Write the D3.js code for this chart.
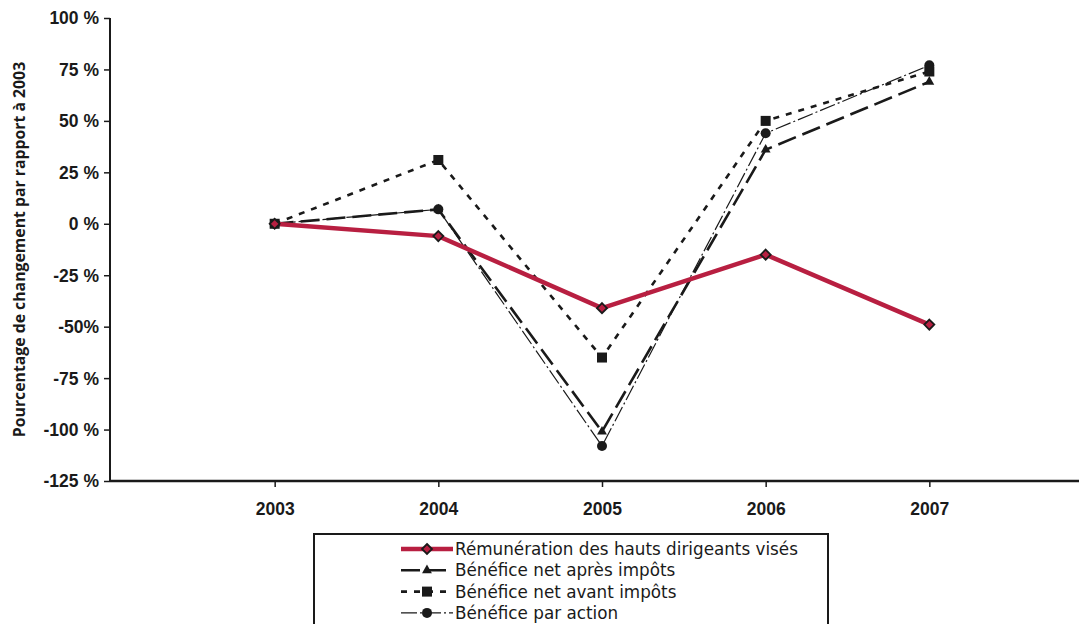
<!DOCTYPE html>
<html>
<head>
<meta charset="utf-8">
<script src="https://cdn.jsdelivr.net/npm/d3@7"></script>
<style>
  html, body { margin: 0; padding: 0; background: #fff; }
  svg { display: block; font-family: "Open Sans", "DejaVu Sans", sans-serif; }
</style>
</head>
<body>
<svg id="chart" width="1079" height="624"></svg>
<script>
// Years on the horizontal axis
const years = [2003, 2004, 2005, 2006, 2007];

// Percentage change relative to 2003
const remuneration = [0, -6, -41, -15, -49];
const beneficeApresImpots = [0, 7, -101, 36, 69];
const beneficeAvantImpots = [0, 31, -65, 50, 74];
const beneficeParAction = [0, 7, -108, 44, 77];

// Y tick values and their labels
const yTicks = [100, 75, 50, 25, 0, -25, -50, -75, -100, -125];
const yTickLabels = ["100 %", "75 %", "50 %", "25 %", "0 %", "-25 %", "-50%", "-75 %", "-100 %", "-125 %"];

const seriesNames = [
  "Rémunération des hauts dirigeants visés",
  "Bénéfice net après impôts",
  "Bénéfice net avant impôts",
  "Bénéfice par action"
];

const yTitle = "Pourcentage de changement par rapport à 2003";

const svg = d3.select("#chart");
const W = 1079;

const x = d3.scaleLinear().domain([2002, 2008]).range([111, 1093]);
const y = d3.scaleLinear().domain([-125, 100]).range([481, 18]);

const red = "#b81f41";
const ink = "#1a1a1a";

// Y axis
const yAxis = d3.axisLeft(y)
  .tickValues(yTicks)
  .tickFormat((d, i) => yTickLabels[i])
  .tickSize(6)
  .tickPadding(5);
const gy = svg.append("g").attr("transform", "translate(110,0)").call(yAxis);
gy.select(".domain").attr("stroke", ink).attr("stroke-width", 2).attr("d", `M0,${y(100)}V${y(-125)}`);
gy.selectAll(".tick line").attr("stroke", ink).attr("stroke-width", 1.5);
gy.selectAll(".tick text")
  .attr("fill", ink)
  .style("font-size", "17.5px")
  .style("font-weight", "bold")
  .attr("dy", "0.34em");

// X axis
const xAxis = d3.axisBottom(x)
  .tickValues(years)
  .tickFormat(d3.format("d"))
  .tickSize(6)
  .tickPadding(16);
const gx = svg.append("g").attr("transform", `translate(0,${y(-125)})`).call(xAxis);
gx.select(".domain").attr("stroke", ink).attr("stroke-width", 2.5).attr("d", `M110,0H${W}`);
gx.selectAll(".tick line").attr("stroke", ink).attr("stroke-width", 1.5);
gx.selectAll(".tick text")
  .attr("fill", ink)
  .style("font-size", "17.5px")
  .style("font-weight", "bold");

// Y axis title
svg.append("text")
  .attr("transform", `translate(25,${(y(100) + y(-125)) / 2}) rotate(-90)`)
  .attr("text-anchor", "middle")
  .attr("fill", ink)
  .style("font-size", "15.8px")
  .style("font-weight", "bold")
  .text(yTitle);

// Series definitions
const series = [
  { name: seriesNames[3], values: beneficeParAction, stroke: ink, width: 1.2, dash: "16,3,2,3", marker: "circle" },
  { name: seriesNames[1], values: beneficeApresImpots, stroke: ink, width: 2.6, dash: "19,7", marker: "triangle" },
  { name: seriesNames[2], values: beneficeAvantImpots, stroke: ink, width: 2.6, dash: "6,7", marker: "square" },
  { name: seriesNames[0], values: remuneration, stroke: red, width: 4.5, dash: null, marker: "diamond" }
];

const line = d3.line().x((d, i) => x(years[i])).y(d => y(d));

function drawMarker(g, type, cx, cy) {
  if (type === "circle") {
    g.append("circle").attr("cx", cx).attr("cy", cy).attr("r", 5).attr("fill", ink);
  } else if (type === "triangle") {
    g.append("path").attr("d", d3.symbol(d3.symbolTriangle, 42)()).attr("transform", `translate(${cx},${cy})`).attr("fill", ink);
  } else if (type === "square") {
    g.append("rect").attr("x", cx - 5).attr("y", cy - 5).attr("width", 10).attr("height", 10).attr("fill", ink);
  } else if (type === "diamond") {
    g.append("path").attr("d", `M${cx},${cy - 5}L${cx + 5},${cy}L${cx},${cy + 5}L${cx - 5},${cy}Z`)
      .attr("fill", red).attr("stroke", ink).attr("stroke-width", 1.8);
  }
}

const plot = svg.append("g");
series.forEach(s => {
  plot.append("path")
    .attr("d", line(s.values))
    .attr("fill", "none")
    .attr("stroke", s.stroke)
    .attr("stroke-width", s.width)
    .attr("stroke-dasharray", s.dash);
});
series.forEach(s => {
  const g = plot.append("g");
  s.values.forEach((v, i) => drawMarker(g, s.marker, x(years[i]), y(v)));
});

// Legend
const legend = svg.append("g");
legend.append("rect")
  .attr("x", 314).attr("y", 534).attr("width", 514).attr("height", 100)
  .attr("fill", "#fff").attr("stroke", ink).attr("stroke-width", 2);

const legendOrder = [3, 1, 2, 0];
legendOrder.forEach((si, row) => {
  const s = series[si];
  const ly = 549 + row * 21.3;
  const g = legend.append("g");
  g.append("line")
    .attr("x1", 401).attr("x2", 453).attr("y1", ly).attr("y2", ly)
    .attr("stroke", s.stroke).attr("stroke-width", s.width)
    .attr("stroke-dasharray", s.dash);
  drawMarker(g, s.marker, 427, ly);
  g.append("text")
    .attr("x", 455).attr("y", ly).attr("dy", "0.36em")
    .attr("fill", ink)
    .style("font-family", "'DejaVu Sans', sans-serif")
    .style("font-size", "16.8px")
    .text(s.name);
});
</script>
</body>
</html>
